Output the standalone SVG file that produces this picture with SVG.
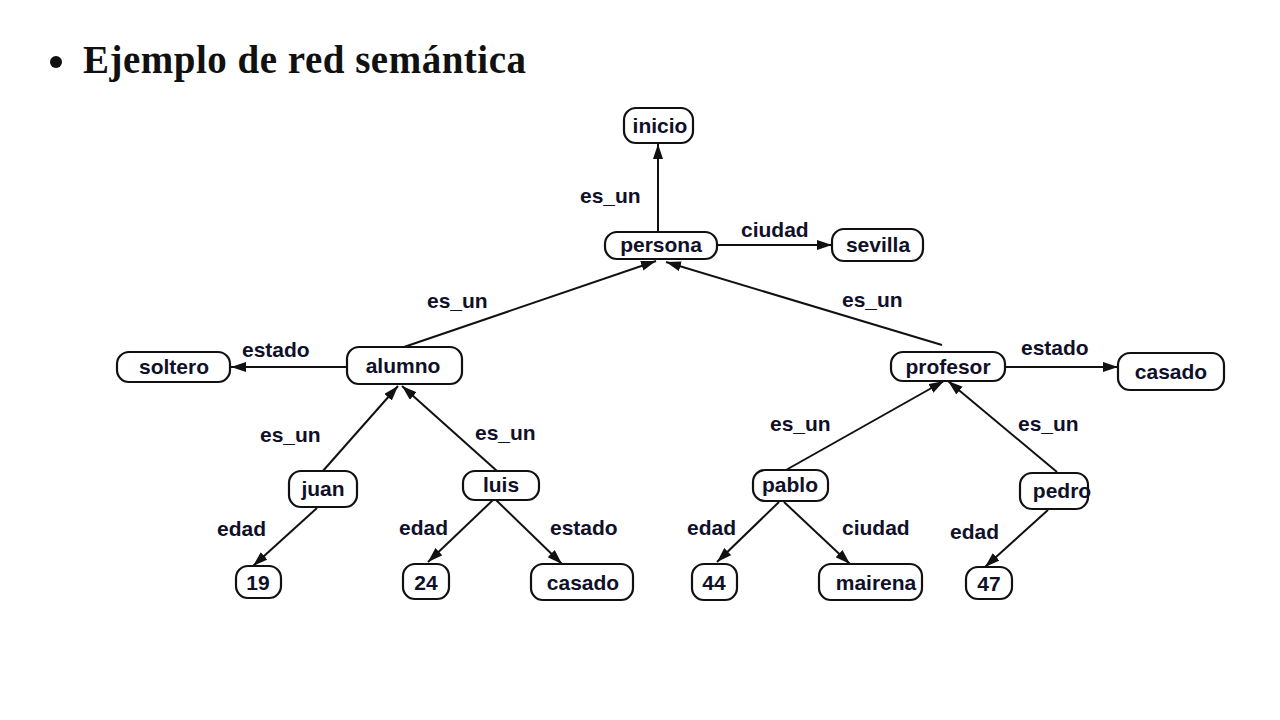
<svg xmlns="http://www.w3.org/2000/svg" width="1280" height="720" viewBox="0 0 1280 720">
<style>
.node rect{fill:#fff;stroke:#111;stroke-width:2.2}
.node text{font-family:"Liberation Sans",Arial,sans-serif;font-weight:bold;font-size:21px;fill:#101028;text-anchor:middle}
.lbl{font-family:"Liberation Sans",Arial,sans-serif;font-weight:bold;font-size:21px;fill:#101028}
#edges line{stroke:#111;stroke-width:2;marker-end:url(#arr)}
.title{font-family:"Liberation Serif","Times New Roman",serif;font-weight:bold;font-size:39px;fill:#111}
</style>
<defs>
<marker id="arr" markerUnits="userSpaceOnUse" markerWidth="16" markerHeight="12" refX="15" refY="5" orient="auto">
<path d="M0,0 L15,5 L0,10 z" fill="#111"/>
</marker>
</defs>
<rect width="1280" height="720" fill="#fff"/>
<g id="title">
<circle cx="56" cy="62" r="6" fill="#111"/>
<text class="title" x="83" y="73" textLength="443" lengthAdjust="spacing">Ejemplo de red semántica</text>
</g>
<g id="edges">
<line x1="658" y1="232" x2="658" y2="144"/>
<line x1="717" y1="245" x2="832" y2="245"/>
<line x1="404" y1="347" x2="656" y2="261"/>
<line x1="942" y1="345" x2="666" y2="262"/>
<line x1="347" y1="367" x2="231" y2="367"/>
<line x1="1005" y1="367" x2="1118" y2="367"/>
<line x1="322" y1="472" x2="398" y2="386"/>
<line x1="497" y1="471" x2="402" y2="386"/>
<line x1="786" y1="470" x2="944" y2="381"/>
<line x1="1057" y1="472" x2="948" y2="381"/>
<line x1="317" y1="508" x2="253" y2="566"/>
<line x1="493" y1="500" x2="428" y2="562"/>
<line x1="496" y1="500" x2="562" y2="564"/>
<line x1="779" y1="502" x2="717" y2="562"/>
<line x1="784" y1="502" x2="850" y2="564"/>
<line x1="1048" y1="510" x2="985" y2="567"/>
</g>
<g id="edge-labels">
<text class="lbl" x="580" y="203">es_un</text>
<text class="lbl" x="741" y="237">ciudad</text>
<text class="lbl" x="427" y="308">es_un</text>
<text class="lbl" x="842" y="307">es_un</text>
<text class="lbl" x="242" y="357">estado</text>
<text class="lbl" x="1021" y="355">estado</text>
<text class="lbl" x="260" y="442">es_un</text>
<text class="lbl" x="475" y="440">es_un</text>
<text class="lbl" x="770" y="431">es_un</text>
<text class="lbl" x="1018" y="431">es_un</text>
<text class="lbl" x="217" y="536">edad</text>
<text class="lbl" x="399" y="535">edad</text>
<text class="lbl" x="550" y="535">estado</text>
<text class="lbl" x="687" y="535">edad</text>
<text class="lbl" x="842" y="535">ciudad</text>
<text class="lbl" x="950" y="539">edad</text>
</g>
<g id="n-inicio" class="node"><rect x="624" y="108" width="69" height="35" rx="12"/><text x="660" y="133">inicio</text></g>
<g id="n-persona" class="node"><rect x="605" y="232" width="112" height="27" rx="12"/><text x="661" y="252">persona</text></g>
<g id="n-sevilla" class="node"><rect x="832" y="229" width="91" height="32" rx="12"/><text x="878" y="252">sevilla</text></g>
<g id="n-soltero" class="node"><rect x="117" y="352" width="113" height="30" rx="12"/><text x="174" y="374">soltero</text></g>
<g id="n-alumno" class="node"><rect x="347" y="347" width="115" height="37" rx="12"/><text x="403" y="373">alumno</text></g>
<g id="n-profesor" class="node"><rect x="891" y="352" width="114" height="29" rx="12"/><text x="948" y="374">profesor</text></g>
<g id="n-casado1" class="node"><rect x="1118" y="353" width="106" height="37" rx="12"/><text x="1171" y="379">casado</text></g>
<g id="n-juan" class="node"><rect x="289" y="471" width="68" height="36" rx="12"/><text x="323" y="496">juan</text></g>
<g id="n-luis" class="node"><rect x="463" y="471" width="76" height="29" rx="12"/><text x="501" y="492">luis</text></g>
<g id="n-pablo" class="node"><rect x="753" y="470" width="75" height="31" rx="12"/><text x="790" y="492">pablo</text></g>
<g id="n-pedro" class="node"><rect x="1020" y="473" width="68" height="36" rx="12"/><text x="1062" y="498">pedro</text></g>
<g id="n-19" class="node"><rect x="236" y="566" width="45" height="32" rx="12"/><text x="258" y="590">19</text></g>
<g id="n-24" class="node"><rect x="403" y="564" width="46" height="35" rx="12"/><text x="426" y="590">24</text></g>
<g id="n-casado2" class="node"><rect x="531" y="564" width="102" height="36" rx="12"/><text x="583" y="590">casado</text></g>
<g id="n-44" class="node"><rect x="692" y="564" width="45" height="36" rx="12"/><text x="714" y="590">44</text></g>
<g id="n-mairena" class="node"><rect x="819" y="564" width="103" height="36" rx="12"/><text x="876" y="590">mairena</text></g>
<g id="n-47" class="node"><rect x="966" y="567" width="46" height="32" rx="12"/><text x="989" y="591">47</text></g>
</svg>
